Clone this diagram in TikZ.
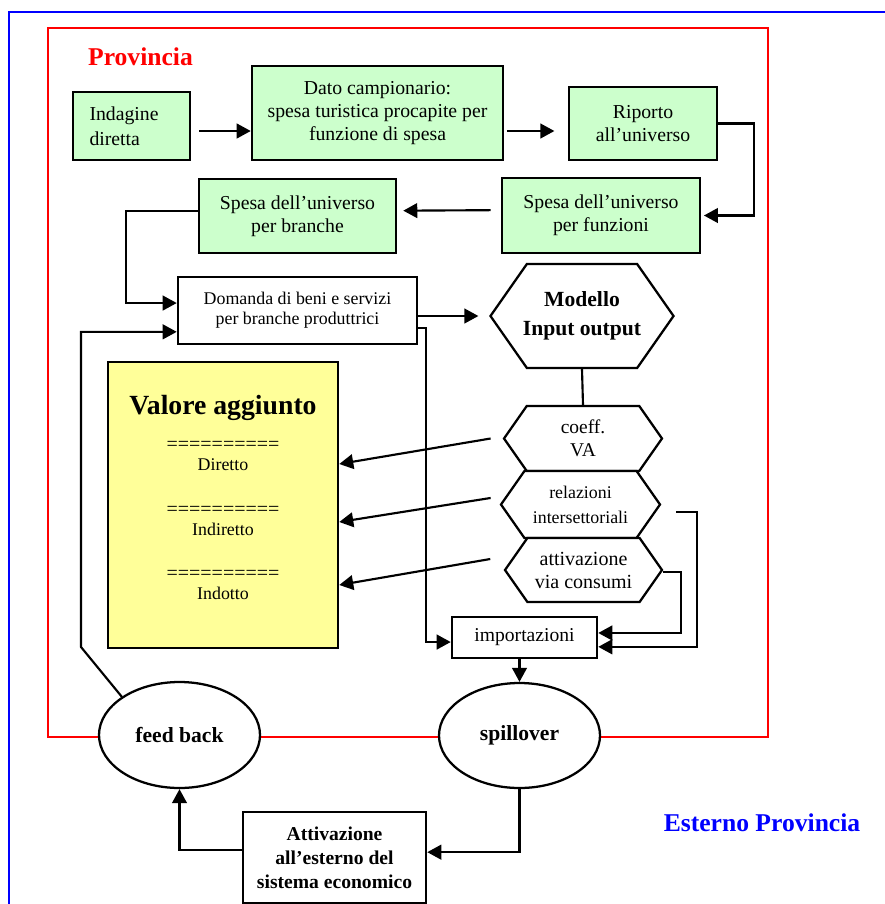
\documentclass[tikz,border=0pt]{standalone}
\usepackage{fontspec}
\setmainfont{Liberation Serif}
\usepackage{xcolor}
\usetikzlibrary{shapes.geometric,shapes.symbols,arrows.meta,calc}
\definecolor{boxgreen}{RGB}{204,255,204}
\definecolor{boxyellow}{RGB}{255,255,153}
\tikzstyle{greenbox} = [rectangle, draw=black, line width=1.9pt, fill=boxgreen, align=center, font=\fontsize{14.8}{17}\selectfont]
\tikzstyle{whitebox} = [rectangle, draw=black, line width=1.9pt, fill=white, align=center]
\tikzstyle{hexbox} = [signal, signal to=west and east, signal pointer angle=110, draw=black, line width=1.7pt, fill=white, align=center, inner sep=0pt]
\tikzstyle{bubble} = [ellipse, draw=black, line width=1.7pt, fill=white, font=\bfseries\fontsize{16.2}{19}\selectfont]
\tikzstyle{vatext} = [align=center, font=\fontsize{13.4}{15}\selectfont]
\tikzstyle{link} = [line width=1.6pt]
\tikzstyle{arrow} = [line width=1.6pt, -{Triangle[length=10.5pt,width=11pt]}]
\newcommand{\equline}{{\fontsize{15}{15}\selectfont==========}}

\begin{document}
\begin{tikzpicture}[x=0.75pt,y=-0.75pt]
\useasboundingbox (0,0) rectangle (885,904);

% frames
\draw [blue, line width=1.7pt] (9,904) -- (9,12) -- (885,12);
\draw [red, line width=1.3pt] (48,28) rectangle (768,737);
\node (prov) [red, font=\bfseries\fontsize{19.2}{22}\selectfont] at (140.5,57) {Provincia};
\node (est) [blue, font=\bfseries\fontsize{19.2}{22}\selectfont] at (762,823) {Esterno Provincia};

% survey chain
\node (indag) [greenbox, minimum width=87.75pt, minimum height=51pt, text width=63pt, align=left, font=\fontsize{14.8}{18.75}\selectfont] at (131.5,126) {Indagine\\diretta};
\node (dato) [greenbox, minimum width=188.25pt, minimum height=70.5pt] at (377.5,113) {Dato campionario:\\spesa turistica procapite per\\funzione di spesa};
\node (riporto) [greenbox, minimum width=111pt, minimum height=54.75pt] at (643,123.5) {Riporto\\all'universo};
\node (funz) [greenbox, minimum width=148.5pt, minimum height=56.25pt] at (601,215.5) {Spesa dell'universo\\per funzioni};
\node (branche) [greenbox, minimum width=147.75pt, minimum height=55.5pt] at (297.5,216) {Spesa dell'universo\\per branche};
\node (domanda) [whitebox, minimum width=179.25pt, minimum height=50.25pt, font=\fontsize{13.4}{15}\selectfont] at (297.5,310.5) {Domanda di beni e servizi\\per branche produttrici};

% model
\node (modello) [hexbox, inner xsep=-3pt, minimum width=136.5pt, minimum height=78pt, font=\bfseries\fontsize{16.2}{21.75}\selectfont] at (582,316) {Modello\\Input output};
\node (coeff) [hexbox, minimum width=118.5pt, minimum height=48.75pt, font=\fontsize{14.6}{17.25}\selectfont] at (583,438.5) {coeff.\\VA};
\node (relaz) [hexbox, minimum width=119.25pt, minimum height=50.25pt, font=\fontsize{13.4}{18.75}\selectfont] at (580.5,504.5) {relazioni\\intersettoriali};
\node (attiv) [hexbox, minimum width=117.75pt, minimum height=48pt, font=\fontsize{15}{17.25}\selectfont] at (583.5,570) {attivazione\\via consumi};
\node (import) [whitebox, minimum width=108.75pt, minimum height=30.75pt, font=\fontsize{14.7}{17}\selectfont] at (524.5,637.5) {importazioni};

% value added
\node (valore) [rectangle, draw=black, line width=1.9pt, fill=boxyellow, minimum width=172.5pt, minimum height=214.5pt] at (223,505) {};
\node (vatitle) [font=\bfseries\fontsize{20.8}{24}\selectfont] at (223,407.5) {Valore aggiunto};
\node (diretto) [vatext] at (223,456) {\equline\\Diretto};
\node (indiretto) [vatext] at (223,521) {\equline\\Indiretto};
\node (indotto) [vatext] at (223,585) {\equline\\Indotto};

% outside
\node (fb) [bubble, minimum width=120.75pt, minimum height=79.5pt] at (179.5,735) {feed back};
\node (spill) [bubble, minimum width=120.75pt, minimum height=78.75pt] at (519.5,735.5) {spillover};
\node (attest) [whitebox, minimum width=137.25pt, minimum height=68.25pt, font=\bfseries\fontsize{14.7}{18}\selectfont] at (334.5,857.5) {Attivazione\\all'esterno del\\sistema economico};

% connectors
\draw [arrow] ([xshift=6pt,yshift=-3.75pt]indag.east) coordinate (a1) -- (a1 -| dato.west);
\draw [arrow] ([xshift=2pt,yshift=-13.5pt]dato.east) coordinate (a2) -- ([xshift=-10pt]a2 -| riporto.west);
\draw [arrow] (riporto.east) -- ++(36,0) |- ([xshift=2pt]funz.east);
\draw [arrow] ([xshift=-7.5pt,yshift=4pt]funz.west) -- ([xshift=4.5pt,yshift=4pt]branche.east);
\draw [arrow] ([yshift=3.75pt]branche.west) -- ++(-72,0) |- ([yshift=5.6pt]domanda.west);
\draw [arrow] (fb.north west) -- (81,647) |- ([yshift=-16pt]domanda.west);
\draw [arrow] (domanda.east |- modello.west) -- ([xshift=-8pt]modello.west);
\draw [arrow] ([yshift=-13pt]domanda.east) -- ++(8,0) |- ([yshift=-3.4pt]import.west);
\draw [link] (modello.south) -- (coeff.north);
\draw [arrow] ([xshift=-9pt]coeff.west) -- ([yshift=30.75pt]valore.east);
\draw [arrow] ([xshift=-6.75pt,yshift=4.9pt]relaz.west) -- ([yshift=-12.75pt]valore.east);
\draw [arrow] ([xshift=-10pt,yshift=8.25pt]attiv.west) -- ([yshift=-60pt]valore.east);
\draw [arrow] ([xshift=11.25pt,yshift=-5.6pt]relaz.east) -- ++(21,0) |- ([yshift=-7pt]import.east);
\draw [arrow] ([yshift=-1.5pt]attiv.east) -- ++(18,0) |- ([yshift=3.4pt]import.east);
\draw [arrow] (import.south -| spill.north) -- (spill.north);
\draw [arrow] (spill.south) |- ([yshift=4pt]attest.east);
\draw [arrow] ([yshift=5.6pt]attest.west) -| (fb.south);

\end{tikzpicture}
\end{document}
